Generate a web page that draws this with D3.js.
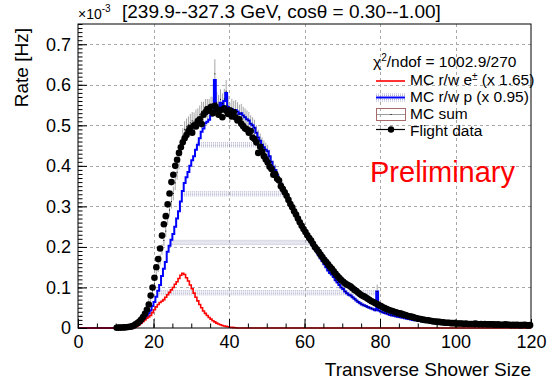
<!DOCTYPE html>
<html>
<head>
<meta charset="utf-8">
<script src="https://cdn.jsdelivr.net/npm/d3@7"></script>
<style>
  body { margin: 0; background: #fff; }
  svg { display: block; font-family: "Liberation Sans", Arial, Helvetica, sans-serif; }
</style>
</head>
<body>
<svg id="chart" width="556" height="383"></svg>
<script>
// bins are 0.5 wide, rates in units of 1e-3 Hz
const binWidth = 0.5;

// flight data, bins starting at 10
const dataStart = 10;
const dataRate = [
  0.0005, 0.001, 0.001, 0.0012, 0.0015, 0.002, 0.0025, 0.003, 0.004, 0.006,
  0.009, 0.012, 0.016, 0.021, 0.027, 0.035, 0.045, 0.058, 0.080, 0.100,
  0.124, 0.150, 0.170, 0.196, 0.228, 0.256, 0.276, 0.305, 0.332, 0.360,
  0.378, 0.400, 0.415, 0.432, 0.446, 0.458, 0.468, 0.476, 0.486, 0.494,
  0.482, 0.500, 0.497, 0.510, 0.515, 0.503, 0.526, 0.532, 0.540, 0.536,
  0.546, 0.530, 0.548, 0.540, 0.526, 0.538, 0.520, 0.542, 0.536, 0.528,
  0.537, 0.522, 0.532, 0.520, 0.512, 0.515, 0.504, 0.498, 0.492, 0.490,
  0.482, 0.486, 0.470, 0.466, 0.458, 0.432, 0.447, 0.436, 0.424, 0.416,
  0.408, 0.398, 0.392, 0.378, 0.380, 0.368, 0.364, 0.350, 0.343, 0.335,
  0.326, 0.316, 0.306, 0.298, 0.288, 0.280, 0.270, 0.261, 0.252, 0.244,
  0.237, 0.229, 0.222, 0.216, 0.208, 0.200, 0.194, 0.188, 0.181, 0.175,
  0.168, 0.163, 0.157, 0.151, 0.146, 0.140, 0.134, 0.128, 0.123, 0.118,
  0.114, 0.110, 0.107, 0.105, 0.102, 0.098, 0.094, 0.091, 0.087, 0.083,
  0.080, 0.078, 0.075, 0.072, 0.069, 0.066, 0.064, 0.061, 0.059, 0.056,
  0.054, 0.051, 0.049, 0.047, 0.045, 0.043, 0.042, 0.040, 0.039, 0.037,
  0.036, 0.035, 0.033, 0.032, 0.030, 0.029, 0.028, 0.027, 0.025, 0.024,
  0.023, 0.022, 0.021, 0.020, 0.019, 0.019, 0.018, 0.017, 0.016, 0.016,
  0.015, 0.015, 0.014, 0.014, 0.013, 0.013, 0.013, 0.012, 0.012, 0.012,
  0.011, 0.011, 0.011, 0.011, 0.010, 0.011, 0.010, 0.010, 0.010, 0.010,
  0.011, 0.010, 0.009, 0.010, 0.009, 0.010, 0.009, 0.009, 0.009, 0.009,
  0.009, 0.008, 0.009, 0.008, 0.008, 0.008, 0.009, 0.008, 0.008, 0.007,
  0.008, 0.007, 0.008, 0.007, 0.007, 0.007, 0.008, 0.007, 0.006, 0.007
];

// MC r/w p (x 0.95), same bins as the data
const protonStart = 10;
const protonRate = [
  0, 0, 0, 0, 0, 0.001, 0.001, 0.002, 0.003, 0.004,
  0.006, 0.008, 0.011, 0.015, 0.019, 0.023, 0.029, 0.036, 0.043, 0.054,
  0.064, 0.077, 0.092, 0.106, 0.128, 0.146, 0.163, 0.188, 0.203, 0.218,
  0.232, 0.250, 0.270, 0.288, 0.312, 0.338, 0.358, 0.372, 0.385, 0.400,
  0.414, 0.424, 0.440, 0.452, 0.468, 0.484, 0.492, 0.505, 0.509, 0.514,
  0.524, 0.527, 0.612, 0.545, 0.540, 0.556, 0.548, 0.560, 0.580, 0.545,
  0.530, 0.540, 0.535, 0.538, 0.534, 0.528, 0.530, 0.524, 0.520, 0.515,
  0.512, 0.504, 0.500, 0.494, 0.482, 0.470, 0.462, 0.452, 0.446, 0.440,
  0.436, 0.424, 0.410, 0.398, 0.390, 0.378, 0.366, 0.356, 0.348, 0.338,
  0.326, 0.318, 0.308, 0.298, 0.288, 0.276, 0.266, 0.258, 0.250, 0.242,
  0.234, 0.226, 0.218, 0.211, 0.203, 0.195, 0.188, 0.180, 0.172, 0.165,
  0.157, 0.150, 0.142, 0.136, 0.132, 0.126, 0.118, 0.112, 0.106, 0.100,
  0.096, 0.090, 0.086, 0.082, 0.080, 0.076, 0.072, 0.068, 0.064, 0.061,
  0.058, 0.056, 0.054, 0.052, 0.050, 0.048, 0.046, 0.044, 0.090, 0.043,
  0.041, 0.039, 0.037, 0.036, 0.034, 0.032, 0.031, 0.030, 0.029, 0.028,
  0.027, 0.026, 0.025, 0.024, 0.023, 0.022, 0.021, 0.020, 0.019, 0.019,
  0.018, 0.017, 0.016, 0.016, 0.015, 0.015, 0.014, 0.014, 0.013, 0.013,
  0.012, 0.012, 0.012, 0.011, 0.011, 0.011, 0.010, 0.010, 0.010, 0.010,
  0.010, 0.009, 0.010, 0.009, 0.009, 0.009, 0.009, 0.008, 0.009, 0.009,
  0.008, 0.008, 0.009, 0.008, 0.008, 0.008, 0.008, 0.007, 0.008, 0.008,
  0.007, 0.008, 0.007, 0.007, 0.007, 0.007, 0.007, 0.006, 0.007, 0.007,
  0.006, 0.007, 0.006, 0.006, 0.006, 0.006, 0.006, 0.006, 0.005, 0.006
];

// MC r/w e± (x 1.65), bins starting at 15
const electronStart = 15;
const electronRate = [
  0.002, 0.005, 0.008, 0.012, 0.016, 0.020, 0.024, 0.027, 0.031, 0.038,
  0.045, 0.052, 0.058, 0.063, 0.066, 0.070, 0.076, 0.082, 0.088, 0.094,
  0.100, 0.108, 0.114, 0.122, 0.130, 0.135, 0.132, 0.124, 0.116, 0.106,
  0.097, 0.086, 0.076, 0.067, 0.058, 0.050, 0.042, 0.036, 0.031, 0.026,
  0.022, 0.018, 0.015, 0.012, 0.010, 0.008, 0.006, 0.005, 0.004, 0.003,
  0.002, 0.0015, 0.001, 0.0005
];

// statistical error of the MC sum, data bins
const mcSumErr = [
  0.001, 0.001, 0.001, 0.001, 0.001, 0.002, 0.002, 0.002, 0.003, 0.003,
  0.004, 0.005, 0.005, 0.006, 0.006, 0.007, 0.008, 0.008, 0.009, 0.010,
  0.011, 0.011, 0.012, 0.013, 0.013, 0.014, 0.015, 0.015, 0.016, 0.017,
  0.017, 0.018, 0.018, 0.019, 0.019, 0.020, 0.020, 0.021, 0.021, 0.022,
  0.022, 0.022, 0.023, 0.023, 0.023, 0.024, 0.024, 0.024, 0.025, 0.025,
  0.025, 0.025, 0.036, 0.025, 0.025, 0.025, 0.025, 0.025, 0.028, 0.025,
  0.024, 0.024, 0.024, 0.024, 0.023, 0.023, 0.023, 0.022, 0.022, 0.022,
  0.021, 0.021, 0.020, 0.020, 0.019, 0.019, 0.018, 0.018, 0.017, 0.017,
  0.016, 0.016, 0.015, 0.015, 0.014, 0.014, 0.013, 0.013, 0.012, 0.012,
  0.012, 0.011, 0.011, 0.011, 0.010, 0.010, 0.010, 0.009, 0.009, 0.009,
  0.009, 0.008, 0.008, 0.008, 0.008, 0.008, 0.007, 0.007, 0.007, 0.007,
  0.007, 0.007, 0.006, 0.006, 0.006, 0.006, 0.006, 0.006, 0.006, 0.006,
  0.005, 0.005, 0.005, 0.005, 0.005, 0.005, 0.005, 0.005, 0.005, 0.005,
  0.005, 0.005, 0.005, 0.005, 0.004, 0.004, 0.004, 0.004, 0.017, 0.004,
  0.004, 0.004, 0.004, 0.004, 0.004, 0.004, 0.004, 0.004, 0.004, 0.004,
  0.004, 0.004, 0.004, 0.004, 0.004, 0.004, 0.004, 0.004, 0.004, 0.004,
  0.003, 0.003, 0.003, 0.003, 0.003, 0.003, 0.003, 0.003, 0.003, 0.003,
  0.003, 0.003, 0.003, 0.003, 0.003, 0.003, 0.003, 0.003, 0.003, 0.003,
  0.003, 0.003, 0.003, 0.003, 0.003, 0.003, 0.003, 0.003, 0.003, 0.003,
  0.003, 0.003, 0.003, 0.003, 0.003, 0.003, 0.003, 0.003, 0.003, 0.003,
  0.003, 0.003, 0.003, 0.003, 0.003, 0.003, 0.003, 0.003, 0.003, 0.003,
  0.003, 0.003, 0.003, 0.003, 0.003, 0.003, 0.003, 0.003, 0.003, 0.003
];

// levels of the dotted fill rows seen under the proton histogram
const fillRowLevels = [0.087, 0.211, 0.331, 0.452];

const xMajor = [0, 20, 40, 60, 80, 100, 120];
const yMajor = [0, 0.1, 0.2, 0.3, 0.4, 0.5, 0.6, 0.7];
const titleText = "[239.9--327.3 GeV, cos\u03b8 = 0.30--1.00]";
const xTitle = "Transverse Shower Size";
const yTitle = "Rate [Hz]";

const svg = d3.select("#chart");
const padL = 78, padR = 531, padT = 24, padB = 328;

const x = d3.scaleLinear().domain([0, 120]).range([padL, padR]);
const y = d3.scaleLinear().domain([0, 0.75]).range([padB, padT]);

svg.append("rect").attr("width", 556).attr("height", 383).attr("fill", "#fff");

// grid
const grid = svg.append("g").attr("stroke", "#a8a8a8").attr("stroke-width", 1).attr("stroke-dasharray", "3,3");
xMajor.slice(1, -1).forEach(v => {
  grid.append("line").attr("x1", Math.round(x(v)) + 0.5).attr("x2", Math.round(x(v)) + 0.5)
    .attr("y1", padT).attr("y2", padB);
});
yMajor.slice(1).forEach(v => {
  grid.append("line").attr("y1", Math.round(y(v)) + 0.5).attr("y2", Math.round(y(v)) + 0.5)
    .attr("x1", padL).attr("x2", padR);
});

// dotted fill rows under the proton histogram
const rows = svg.append("g").attr("stroke", "#8c8cb8").attr("stroke-width", 0.8)
  .attr("stroke-dasharray", "1,1").attr("opacity", 0.85);
fillRowLevels.forEach(level => {
  const idx = protonRate.map((v, i) => v >= level ? i : -1).filter(i => i >= 0);
  const x0 = protonStart + idx[0] * binWidth;
  const x1 = protonStart + (idx[idx.length - 1] + 1) * binWidth;
  [-2.1, -0.7, 0.7, 2.1].forEach(off => {
    rows.append("line").attr("x1", x(x0)).attr("x2", x(x1))
      .attr("y1", y(level) + off).attr("y2", y(level) + off);
  });
});

// step histograms
function stepPoints(start, values) {
  const pts = [[0, 0]];
  values.forEach((v, i) => pts.push([start + i * binWidth, v]));
  pts.push([start + values.length * binWidth, 0]);
  pts.push([120, 0]);
  return pts;
}
const stepLine = d3.line().x(d => x(d[0])).y(d => y(d[1])).curve(d3.curveStepAfter);

// MC sum with errors
const mcSum = dataRate.map((d, i) => {
  const c = dataStart + (i + 0.5) * binWidth;
  const pi = Math.round((c - protonStart) / binWidth - 0.5);
  const ei = Math.round((c - electronStart) / binWidth - 0.5);
  const p = pi >= 0 && pi < protonRate.length ? protonRate[pi] : 0;
  const e = ei >= 0 && ei < electronRate.length ? electronRate[ei] : 0;
  return { c: c, v: p + e, err: mcSumErr[i] };
}).filter(d => d.v > 0);

svg.append("g").attr("stroke", "#a6a6a6").attr("stroke-width", 1)
  .selectAll("line").data(mcSum).join("line")
  .attr("x1", d => x(d.c)).attr("x2", d => x(d.c))
  .attr("y1", d => y(d.v - d.err)).attr("y2", d => y(d.v + d.err));

svg.append("path").datum(stepPoints(protonStart, protonRate))
  .attr("d", stepLine).attr("fill", "none").attr("stroke", "#0000ff").attr("stroke-width", 2);
svg.append("path").datum(stepPoints(electronStart, electronRate))
  .attr("d", stepLine).attr("fill", "none").attr("stroke", "#ff0000").attr("stroke-width", 1.6);

svg.append("g").attr("fill", "#000")
  .selectAll("rect").data(mcSum).join("rect")
  .attr("x", d => x(d.c) - 0.5).attr("y", d => y(d.v) - 0.5).attr("width", 1).attr("height", 1);

// flight data
svg.append("g").attr("fill", "#000")
  .selectAll("circle").data(dataRate).join("circle")
  .attr("cx", (d, i) => x(dataStart + (i + 0.5) * binWidth))
  .attr("cy", d => y(d))
  .attr("r", 3.3);

// frame
svg.append("rect").attr("x", padL).attr("y", padT).attr("width", padR - padL).attr("height", padB - padT)
  .attr("fill", "none").attr("stroke", "#000").attr("stroke-width", 1);

// axes
svg.append("g").attr("transform", `translate(0,${padB})`)
  .call(d3.axisBottom(x).tickValues(xMajor).tickSize(-9).tickPadding(7).tickFormat(d3.format("d")));
svg.append("g").attr("transform", `translate(0,${padB})`)
  .call(d3.axisBottom(x).tickValues(d3.range(0, 121, 5)).tickSize(-4.5).tickFormat(""));
svg.append("g").attr("transform", `translate(${padL},0)`)
  .call(d3.axisLeft(y).tickValues(yMajor).tickSize(-9).tickPadding(7)
    .tickFormat(d => d === 0 ? "0" : d.toFixed(1)));
svg.append("g").attr("transform", `translate(${padL},0)`)
  .call(d3.axisLeft(y).tickValues(d3.range(0, 0.755, 0.01)).tickSize(-4.5).tickFormat(""));
svg.selectAll(".domain").remove();
svg.selectAll(".tick line").attr("stroke", "#000");
svg.selectAll(".tick text").attr("font-size", 18).attr("fill", "#000")
  .attr("font-family", "'Liberation Sans', Arial, sans-serif");

// axis titles
svg.append("text").attr("x", padR).attr("y", 376).attr("text-anchor", "end")
  .attr("font-size", 19).text(xTitle);
svg.append("text").attr("transform", "translate(28,28) rotate(-90)").attr("text-anchor", "end")
  .attr("font-size", 19).text(yTitle);

// title and exponent
const expo = svg.append("text").attr("x", 78).attr("y", 19).attr("font-size", 14);
expo.append("tspan").text("\u00d710");
expo.append("tspan").attr("font-size", 10).attr("dy", -7).text("-3");
svg.append("text").attr("x", 122).attr("y", 18).attr("font-size", 19).text(titleText);

// Preliminary
svg.append("text").attr("x", 370).attr("y", 182).attr("font-size", 29).attr("fill", "#ff0000").text("Preliminary");

// legend
const lg = svg.append("g").attr("font-size", 15.5);
const chi = lg.append("text").attr("x", 373).attr("y", 66.5);
chi.append("tspan").text("\u03c7");
chi.append("tspan").attr("font-size", 10).attr("dy", -6).text("2");
chi.append("tspan").attr("dy", 6).text("/ndof = 1002.9/270");

const ex0 = 376, ex1 = 405, tx = 410;
lg.append("line").attr("x1", ex0).attr("x2", ex1).attr("y1", 81).attr("y2", 81)
  .attr("stroke", "#ff0000").attr("stroke-width", 1.6);
const t1 = lg.append("text").attr("x", tx).attr("y", 85);
t1.append("tspan").text("MC r/w e");
t1.append("tspan").attr("font-size", 10).attr("dy", -5).text("\u00b1");
t1.append("tspan").attr("dy", 5).text(" (x 1.65)");

[-3.5, -2, 2, 3.5].forEach(off => {
  lg.append("line").attr("x1", ex0).attr("x2", ex1).attr("y1", 97.5 + off).attr("y2", 97.5 + off)
    .attr("stroke", "#9c9cc4").attr("stroke-width", 0.8).attr("stroke-dasharray", "1,1");
});
lg.append("line").attr("x1", ex0).attr("x2", ex1).attr("y1", 97.5).attr("y2", 97.5)
  .attr("stroke", "#0000ff").attr("stroke-width", 2);
lg.append("text").attr("x", tx).attr("y", 101.5).text("MC r/w p (x 0.95)");

lg.append("rect").attr("x", ex0 + 0.5).attr("y", 108.5).attr("width", ex1 - ex0).attr("height", 12)
  .attr("fill", "none").attr("stroke", "#a86a6a").attr("stroke-width", 1);
lg.append("line").attr("x1", ex0 + 1).attr("x2", ex1).attr("y1", 114.5).attr("y2", 114.5)
  .attr("stroke", "#9a9a9a").attr("stroke-width", 1);
lg.append("rect").attr("x", (ex0 + ex1) / 2).attr("y", 114).attr("width", 1).attr("height", 1).attr("fill", "#000");
lg.append("text").attr("x", tx).attr("y", 118.5).text("MC sum");

lg.append("line").attr("x1", ex0).attr("x2", ex1).attr("y1", 129.5).attr("y2", 129.5)
  .attr("stroke", "#000").attr("stroke-width", 1.2);
lg.append("circle").attr("cx", (ex0 + ex1) / 2 + 0.5).attr("cy", 129.5).attr("r", 3.2).attr("fill", "#000");
lg.append("text").attr("x", tx).attr("y", 135.5).text("Flight data");
</script>
</body>
</html>
